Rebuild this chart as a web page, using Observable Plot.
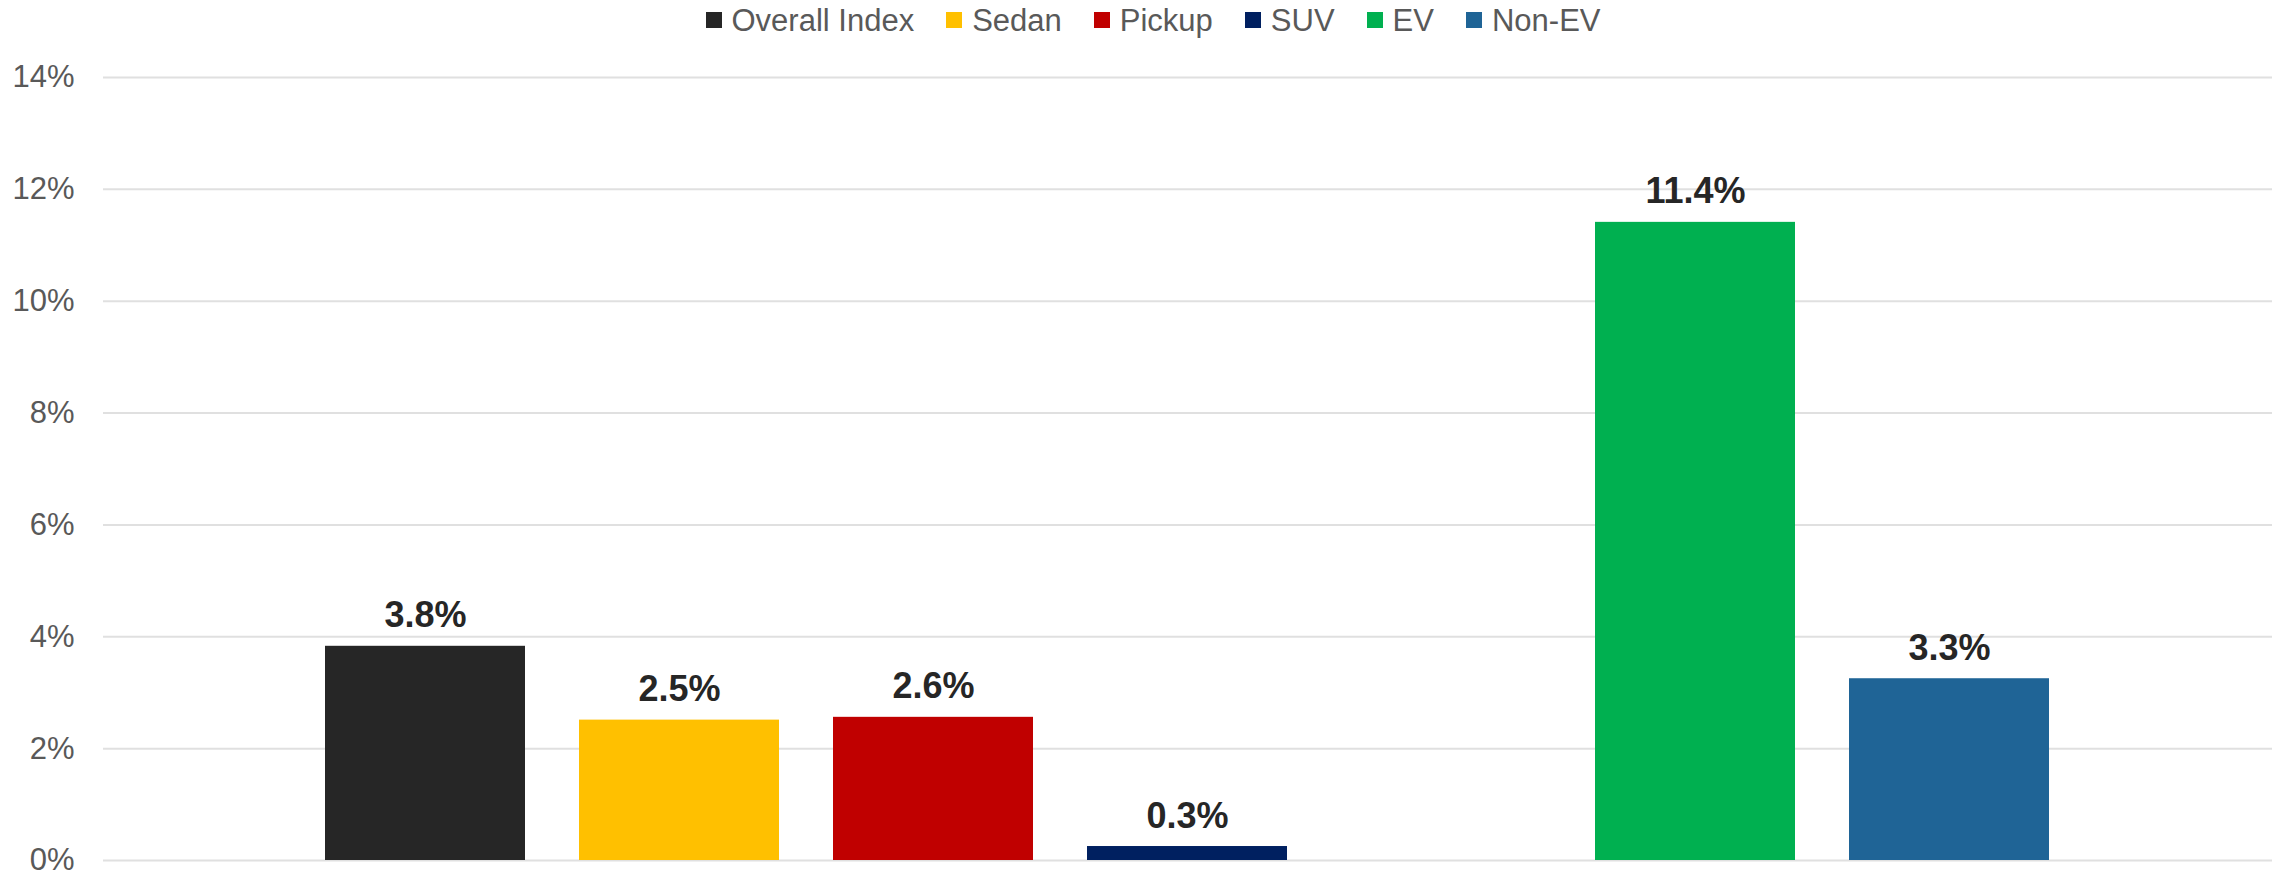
<!DOCTYPE html>
<html>
<head>
<meta charset="utf-8">
<script src="https://cdn.jsdelivr.net/npm/d3@7"></script>
<script src="https://cdn.jsdelivr.net/npm/@observablehq/plot@0.6"></script>
<style>
  html, body { margin: 0; padding: 0; background: #ffffff; }
  body { width: 2282px; font-family: "Liberation Sans", Arial, sans-serif; }
  #legend { height: 40px; display: flex; align-items: center; justify-content: center; padding-left: 24px; box-sizing: border-box; }
  #legend div.lg-swatches { display: flex !important; align-items: center; justify-content: center; min-height: 0 !important; margin: 0 !important; font-family: "Liberation Sans", Arial, sans-serif !important; font-size: 31px !important; color: #595959 !important; }
  #legend .lg-swatch { margin-right: 32px !important; margin-left: 0 !important; line-height: 1; }
  #legend .lg-swatch:last-child { margin-right: 0 !important; }
  #legend .lg-swatch > svg { margin-right: 10px !important; }
  #chart svg { display: block; overflow: visible; }
</style>
</head>
<body>
<div id="legend"></div>
<div id="chart"></div>
<script>
const categories = ["Overall Index", "Sedan", "Pickup", "SUV", "EV", "Non-EV"];
const values = [3.83, 2.51, 2.56, 0.25, 11.41, 3.25];
const colors = ["#262626", "#FFC000", "#C00000", "#002060", "#00B050", "#1F6496"];
const slots = ["Overall Index", "Sedan", "Pickup", "SUV", "", "EV", "Non-EV"];
const yTicks = [0, 2, 4, 6, 8, 10, 12, 14];

const data = categories.map((c, i) => ({category: c, value: values[i]}));
const fmt = d3.format(".1f");

const chart = Plot.plot({
  width: 2282,
  height: 832,
  marginTop: 37,
  marginBottom: 12,
  marginLeft: 103,
  marginRight: 10,
  style: {fontFamily: "'Liberation Sans', Arial, sans-serif", fontSize: "31px", color: "#595959", background: "#ffffff", overflow: "visible"},
  x: {type: "band", domain: slots, range: [323, 2052.2], paddingInner: 0.211, paddingOuter: 0, axis: null},
  y: {domain: [0, 14], label: null},
  color: {domain: categories, range: colors},
  marks: [
    Plot.gridY(yTicks, {stroke: "#e0e0e0", strokeOpacity: 1, strokeWidth: 2}),
    Plot.axisY(yTicks, {tickSize: 0, tickPadding: 29, tickFormat: d => d + "%", fontSize: 31, fill: "#595959", label: null}),
    Plot.barY(data, {x: "category", y: "value", fill: "category"}),
    Plot.text(data, {
      x: "category", y: "value",
      text: d => fmt(d.value) + "%",
      lineAnchor: "bottom", dy: -19,
      fontSize: 36, fontWeight: "bold", fill: "#262626"
    })
  ]
});

document.getElementById("chart").append(chart);
const leg = chart.legend("color", {swatchSize: 16, className: "lg"});
document.getElementById("legend").append(leg);
</script>
</body>
</html>
